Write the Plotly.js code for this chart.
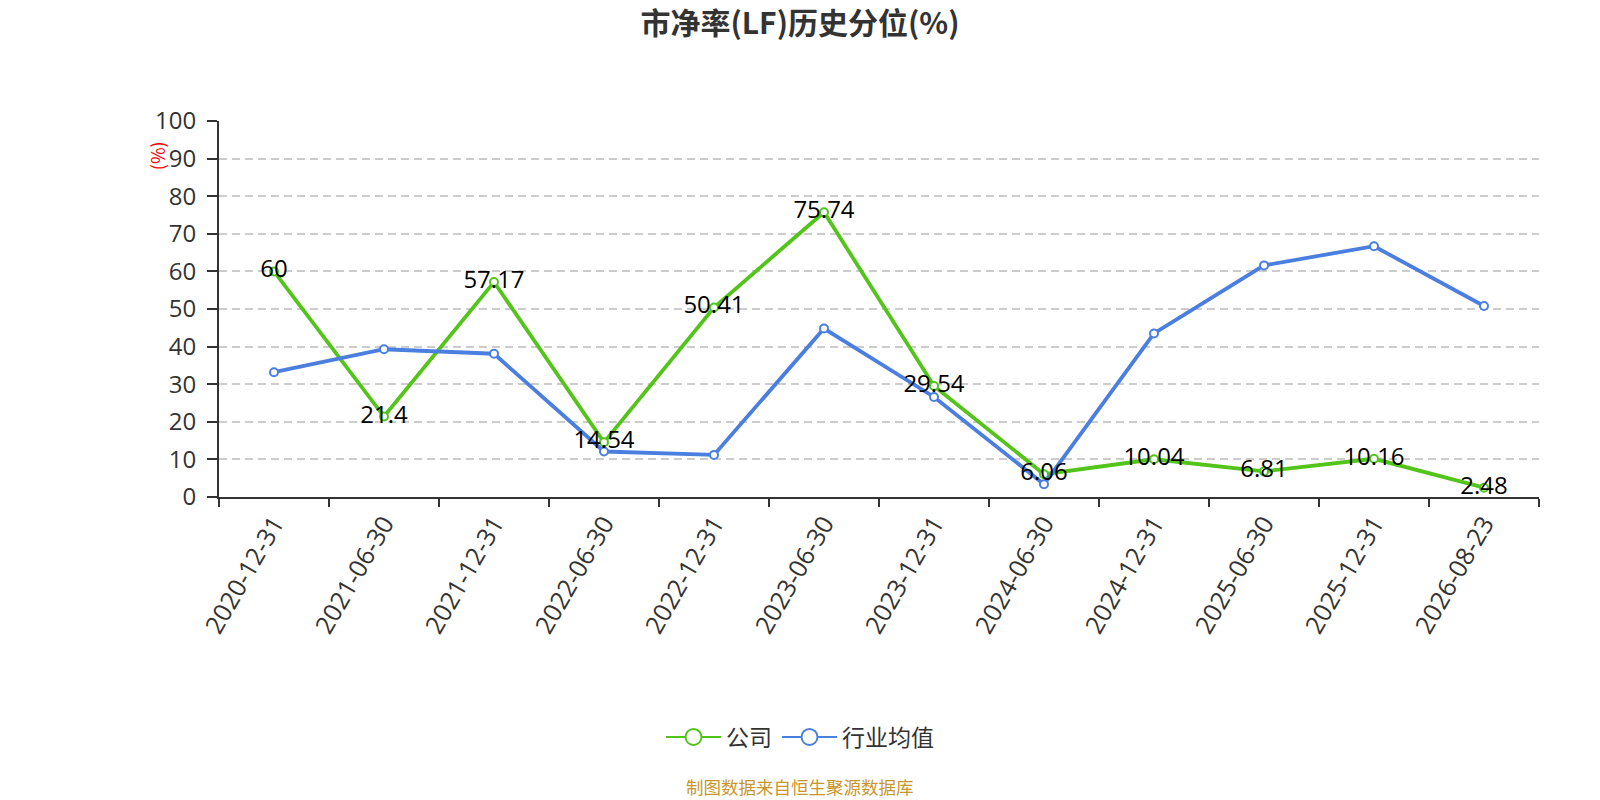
<!DOCTYPE html>
<html>
<head>
<meta charset="utf-8">
<script src="https://cdn.plot.ly/plotly-3.0.1.min.js"></script>
<style>
  html, body { margin: 0; padding: 0; background: #fff; }
  #chart { width: 1600px; height: 800px; }
</style>
</head>
<body>
<div id="chart"></div>
<script>
var dates = ["2020-12-31", "2021-06-30", "2021-12-31", "2022-06-30", "2022-12-31", "2023-06-30",
             "2023-12-31", "2024-06-30", "2024-12-31", "2025-06-30", "2025-12-31", "2026-08-23"];
var company = [60, 21.4, 57.17, 14.54, 50.41, 75.74, 29.54, 6.06, 10.04, 6.81, 10.16, 2.48];
var industry = [33.2, 39.3, 38.1, 12.1, 11.2, 44.8, 26.6, 3.4, 43.5, 61.6, 66.7, 50.8];

var green = "#52C41A";
var blue = "#4A7FE0";
var font = "'Open Sans', 'Noto Sans CJK SC', sans-serif";
var cjk = "'Noto Sans CJK SC', sans-serif";

function series(name, y, color) {
  return {
    x: dates, y: y, name: name, type: "scatter", mode: "lines+markers", showlegend: false,
    line: { color: color, width: 3.8 },
    marker: { symbol: "circle", size: 8, color: "#fff", line: { color: color, width: 2 } }
  };
}
function legendItem(name, color) {
  return {
    x: [null], y: [null], name: name, type: "scatter", mode: "lines+markers",
    line: { color: color, width: 2 },
    marker: { symbol: "circle", size: 16, color: "#fff", line: { color: color, width: 2 } }
  };
}

var traces = [
  series("公司", company, green),
  series("行业均值", industry, blue),
  {
    x: dates, y: company, type: "scatter", mode: "text", showlegend: false, hoverinfo: "skip",
    text: company.map(String), textposition: "middle center",
    textfont: { family: font, size: 24, color: "#000" }
  },
  legendItem("公司", green),
  legendItem("行业均值", blue)
];

var layout = {
  width: 1600, height: 800,
  margin: { l: 219, r: 61, t: 121, b: 303 },
  paper_bgcolor: "#fff", plot_bgcolor: "#fff",
  font: { family: font, color: "#333" },
  showlegend: true,
  title: {
    text: "<b>市净率(LF)历史分位(%)</b>",
    font: { family: cjk, size: 30, color: "#333" },
    x: 0.5, xref: "container", xanchor: "center",
    y: 1 - 23 / 800, yref: "container", yanchor: "middle"
  },
  xaxis: {
    type: "category",
    range: [-0.5, dates.length - 0.5],
    tickson: "boundaries",
    ticks: "outside", ticklen: 8, tickcolor: "#333", tickwidth: 2,
    showline: true, linecolor: "#333", linewidth: 2,
    showgrid: false, zeroline: false,
    tickangle: -60,
    tickfont: { family: font, size: 25, color: "#333" }
  },
  yaxis: {
    range: [0, 100], dtick: 10,
    ticks: "outside", ticklen: 10, tickcolor: "#333", tickwidth: 2,
    showline: true, linecolor: "#333", linewidth: 2,
    showgrid: true, gridcolor: "#cccccc", griddash: "8px,5px", gridwidth: 1.5,
    zeroline: false,
    ticklabelstandoff: 6,
    tickfont: { family: font, size: 24, color: "#333" }
  },
  legend: {
    orientation: "h",
    xref: "container", x: 0.5, xanchor: "center",
    yref: "container", y: 1 - 737 / 800, yanchor: "middle",
    font: { family: cjk, size: 23, color: "#333" },
    itemwidth: 55
  },
  annotations: [
    {
      text: "(%)", textangle: -90, showarrow: false,
      xref: "paper", yref: "paper", x: -0.047, y: 0.909,
      xanchor: "center", yanchor: "middle",
      font: { family: cjk, size: 18, color: "#ff0000" }
    },
    {
      text: "制图数据来自恒生聚源数据库", showarrow: false,
      xref: "paper", yref: "paper", x: (800 - 219) / 1320, y: (496.7 - 786) / 376,
      xanchor: "center", yanchor: "middle",
      font: { family: cjk, size: 17.5, color: "#C9962B" }
    }
  ]
};

Plotly.newPlot("chart", traces, layout, { displayModeBar: false });
</script>
</body>
</html>
